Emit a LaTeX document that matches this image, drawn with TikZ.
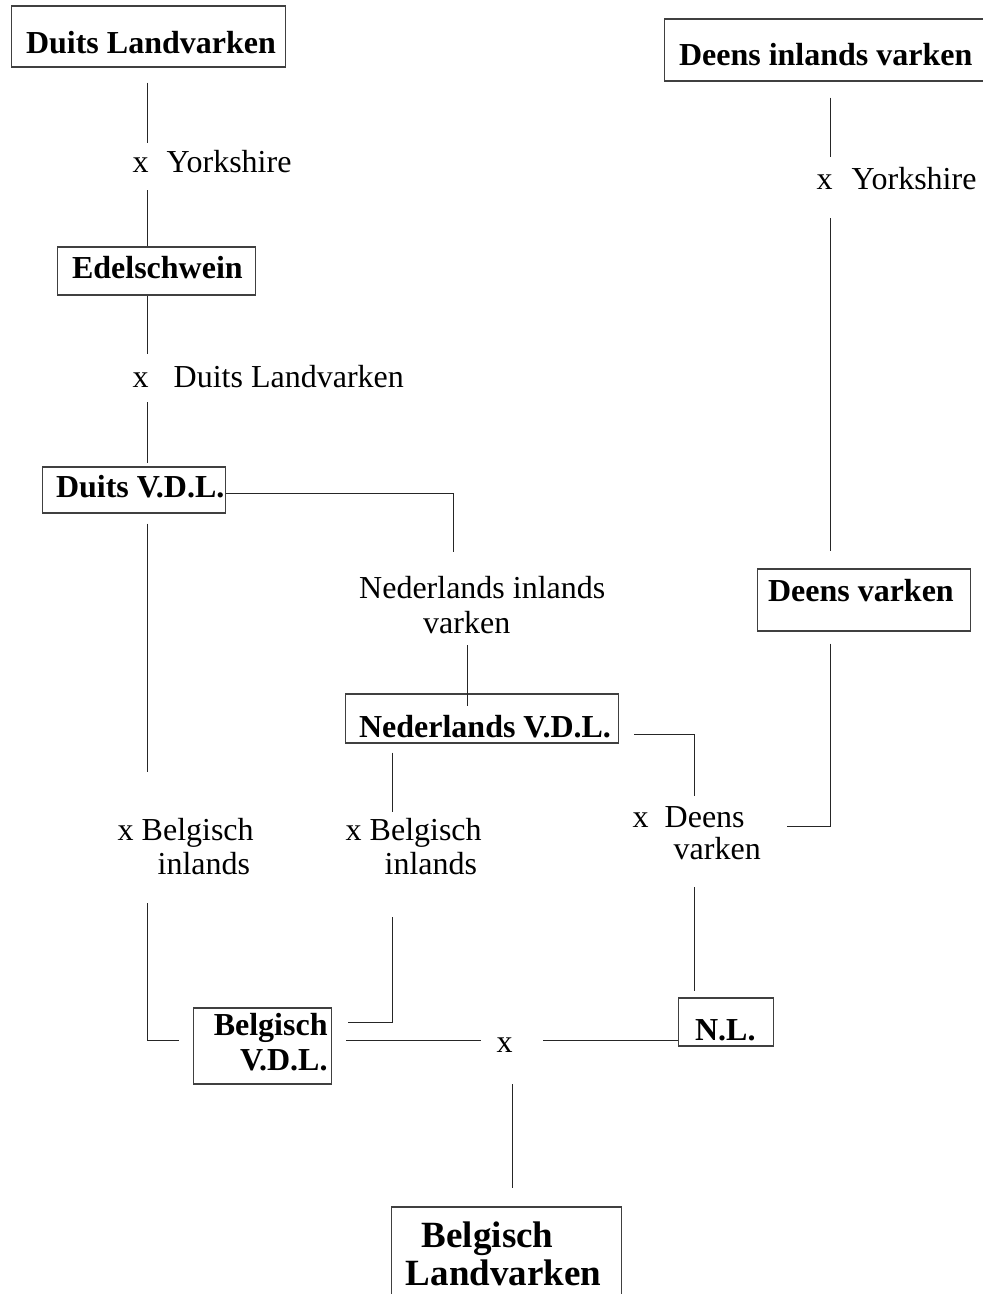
\documentclass[tikz,border=0pt]{standalone}
\usepackage{fontspec}
\setmainfont{Liberation Serif}
\begin{document}
\begin{tikzpicture}[x=1pt,y=-1pt]
\tikzset{
  box/.style={draw=black!75, line width=1.1pt, inner sep=0pt, anchor=base west,
              font=\bfseries\fontsize{32}{35}\selectfont},
  lbl/.style={inner sep=0pt, anchor=base west, font=\fontsize{32}{34}\selectfont},
  conn/.style={draw=black!85, line width=1pt},
}
\useasboundingbox (0,0) rectangle (983,1294);

% boxes
\node[box, text height=47pt, text depth=14pt] (dl) at (11,53)
  {\makebox[274pt][l]{\hspace*{14.5pt}Duits Landvarken}};
\node[box, text height=31pt, text depth=17pt] (ed) at (57,278)
  {\makebox[198pt][l]{\hspace*{14.5pt}Edelschwein}};
\node[box, text height=30pt, text depth=16pt] (dv) at (42,497)
  {\makebox[183pt][l]{\hspace*{13.5pt}Duits V.D.L.}};
\node[box, text height=46pt, text depth=16pt] (di) at (664,65)
  {\makebox[318.5pt][l]{\hspace*{14.5pt}Deens inlands varken}};
\node[box, text height=32pt, text depth=30pt] (dvk) at (757,601)
  {\makebox[213pt][l]{\hspace*{10.5pt}Deens varken}};
\node[box, text height=43pt, text depth=6pt] (nv) at (345,737)
  {\makebox[273pt][l]{\hspace*{13.5pt}Nederlands V.D.L.}};
\node[box, text height=42pt, text depth=6pt] (nl) at (678,1040)
  {\makebox[95pt][l]{\hspace*{16.5pt}N.L.}};
\node[box, text height=62pt, text depth=14pt] (bv) at (193,1070)
  {\makebox[138pt][r]{\begin{tabular}[b]{@{}r@{}}Belgisch\\V.D.L.\end{tabular}\hspace*{4pt}}};
\node[box, font=\bfseries\fontsize{37}{38}\selectfont, text height=78pt, text depth=25pt] (bl) at (391,1285)
  {\makebox[230pt][l]{\hspace*{14.3pt}\begin{tabular}[b]{@{}l@{}}\hspace*{16pt}Belgisch\\Landvarken\end{tabular}}};

% labels
\node[lbl, text height=29pt, text depth=18pt] (y1) at (132.5,172) {x\hspace{18pt}Yorkshire};
\node[lbl, text height=33pt, text depth=15pt] (y2) at (132.5,387) {x\hspace{25pt}Duits Landvarken};
\node[lbl, font=\fontsize{32}{35}\selectfont, text height=81pt, text depth=12pt] (ni) at (359,633)
  {\begin{tabular}[b]{@{}l@{}}Nederlands inlands\\\hspace*{64pt}varken\end{tabular}};
\node[lbl, text height=102pt, text depth=29pt] (bi1) at (117.5,874)
  {\begin{tabular}[b]{@{}l@{}}x Belgisch\\\hspace*{40pt}inlands\end{tabular}};
\node[lbl, text height=62pt, text depth=43pt] (bi2) at (345.5,874)
  {\begin{tabular}[b]{@{}l@{}}x Belgisch\\\hspace*{39pt}inlands\end{tabular}};
\node[lbl, font=\fontsize{32}{32}\selectfont, text height=63pt, text depth=28pt] (dk) at (632.5,859)
  {\begin{tabular}[b]{@{}l@{}}x\hspace{16pt}Deens\\\hspace*{41pt}varken\end{tabular}};
\node[lbl, text height=32pt, text depth=29pt] (yk) at (816.5,189) {x\hspace{19pt}Yorkshire};
\node[lbl, text height=20pt, text depth=32pt] (xm) at (496.5,1052) {x};

% reference columns and bends
\coordinate (colA) at (147.5,0);
\coordinate (colC) at (467,0);
\coordinate (colD) at (392,0);
\coordinate (colF) at (830.5,0);
\coordinate (kdv) at (453,493);
\coordinate (knv) at (694,734);
\coordinate (kbi2) at (392,1022);
\coordinate (kbot) at (147.5,1040);
\coordinate (kdk) at (830.5,826.5);

% connectors
\draw[conn, shorten <=15pt] (dl.south -| colA) -- (y1.north -| colA);
\draw[conn] (y1.south -| colA) -- (ed.north -| colA);
\draw[conn] (ed.south -| colA) -- (y2.north -| colA);
\draw[conn, shorten >=3pt] (y2.south -| colA) -- (dv.north -| colA);
\draw[conn] (dv.east |- kdv) -- (kdv) -- (kdv |- ni.north);
\draw[conn, shorten >=-13pt] (ni.south -| colC) -- (nv.north -| colC);
\draw[conn, shorten <=9pt] (nv.south -| colD) -- (bi2.north -| colD);
\draw[conn, shorten >=16pt] (bi2.south -| colD) -- (kbi2) -- (kbi2 -| bv.east);
\draw[conn, shorten <=10pt] (dv.south -| colA) -- (bi1.north -| colA);
\draw[conn, shorten >=14pt] (bi1.south -| colA) -- (kbot) -- (kbot -| bv.west);
\draw[conn, shorten <=14pt, shorten >=15.5pt] (kbot -| bv.east) -- (kbot -| xm.west);
\draw[conn, shorten <=30.5pt] (kbot -| xm.east) -- (kbot -| nl.west);
\draw[conn, shorten >=18pt] (xm.south east) -- (bl.north -| xm.south east);
\draw[conn, shorten <=16pt] (di.south -| colF) -- (yk.north -| colF);
\draw[conn, shorten >=17pt] (yk.south -| colF) -- (dvk.north -| colF);
\draw[conn, shorten <=12pt, shorten >=26.5pt] (dvk.south -| colF) -- (kdk) -- (kdk -| dk.east);
\draw[conn, shorten <=15pt] (nv.east |- knv) -- (knv) -- (knv |- dk.north);
\draw[conn, shorten >=6pt] (dk.south -| knv) -- (nl.north -| knv);
\end{tikzpicture}
\end{document}
